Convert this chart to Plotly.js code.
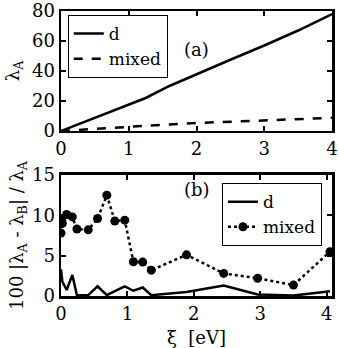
<!DOCTYPE html>
<html>
<head>
<meta charset="utf-8">
<script src="https://cdn.plot.ly/plotly-3.0.1.min.js"></script>
<style>
  body { margin: 0; background: #fff; }
  #graph { width: 338px; height: 348px; }
</style>
</head>
<body>
<div id="graph"></div>
<script>
// panel (a): lambda_A vs xi
const xiA = [0, 0.4, 0.8, 1.25, 1.6, 2, 2.5, 3, 3.5, 4];
const lamD = [0, 7, 14, 22, 30, 38, 47.5, 57, 67, 78];
const lamMixed = [0, 1.2, 2.4, 3.4, 4.4, 5.3, 6.2, 7.1, 7.9, 8.8];

// panel (b): relative difference in percent
const xiB = [0, 0.01, 0.02, 0.085, 0.17, 0.24, 0.41, 0.55, 0.69, 0.81, 0.96, 1.09, 1.23, 1.36, 1.89, 2.45, 2.96, 3.5, 4.05];
const diffD = [3.3, 2.4, 1.8, 0.75, 2.6, 0.1, 0.1, 1.2, 0.1, 0.6, 1.2, 0.65, 1.05, 0.1, 0.5, 1.3, 0.2, 0.05, 0.6];
const diffMixed = [7.8, 9.4, 9.0, 10.1, 9.8, 8.3, 8.2, 9.6, 12.5, 9.3, 9.4, 4.25, 4.2, 3.2, 5.1, 2.8, 2.2, 1.35, 5.5];

const font = { family: 'DejaVu Serif', size: 18, color: '#000' };
const legFont = Object.assign({}, font, { size: 17 });

const traces = [
  { x: xiA, y: lamD, type: 'scatter', mode: 'lines', name: 'd', line: { color: '#000', width: 2.5 }, xaxis: 'x', yaxis: 'y', legend: 'legend' },
  { x: xiA, y: lamMixed, type: 'scatter', mode: 'lines', name: 'mixed', line: { color: '#000', width: 2.5, dash: 'dash' }, xaxis: 'x', yaxis: 'y', legend: 'legend' },
  { x: xiB, y: diffD, type: 'scatter', mode: 'lines', name: 'd', line: { color: '#000', width: 2.5 }, xaxis: 'x2', yaxis: 'y2', legend: 'legend2' },
  { x: xiB, y: diffMixed, type: 'scatter', mode: 'lines+markers', name: 'mixed', line: { color: '#000', width: 2.5, dash: 'dot' }, marker: { color: '#000', size: 9 }, xaxis: 'x2', yaxis: 'y2', legend: 'legend2' }
];

const axisStyle = {
  showline: true, linewidth: 2.5, linecolor: '#000', mirror: 'ticks',
  ticks: 'inside', ticklen: 5, tickwidth: 2, tickcolor: '#000',
  showgrid: false, zeroline: false, tickfont: font, ticklabeloverflow: 'allow'
};

const layout = {
  width: 338, height: 348,
  margin: { l: 61, r: 6, t: 11, b: 52 },
  paper_bgcolor: '#fff', plot_bgcolor: '#fff',
  font: font,
  showlegend: true,
  xaxis: Object.assign({}, axisStyle, { domain: [0, 1], range: [0, 4], dtick: 1, anchor: 'y' }),
  yaxis: Object.assign({}, axisStyle, { domain: [0.579, 1], range: [0, 80], dtick: 20, anchor: 'x',
    title: { text: 'λ<sub>A</sub>', font: font, standoff: 8 } }),
  xaxis2: Object.assign({}, axisStyle, { domain: [0, 1], range: [0, 4.08], dtick: 1, anchor: 'y2',
    title: { text: 'ξ  [eV]', font: font, standoff: 10 } }),
  yaxis2: Object.assign({}, axisStyle, { domain: [0, 0.4246], range: [0, 15], dtick: 5, anchor: 'x2',
    title: { text: '100 |λ<sub>A</sub> - λ<sub>B</sub>| / λ<sub>A</sub>', font: font, standoff: 4 } }),
  legend: { x: 0.025, y: 0.986, xanchor: 'left', yanchor: 'top', bgcolor: '#fff', bordercolor: '#000', borderwidth: 1, font: legFont, tracegroupgap: 0 },
  legend2: { x: 0.963, y: 0.396, xanchor: 'right', yanchor: 'top', bgcolor: '#fff', bordercolor: '#000', borderwidth: 1, font: legFont, tracegroupgap: 0 },
  annotations: [
    { text: '(a)', x: 0.5, y: 0.91, xref: 'paper', yref: 'paper', showarrow: false, font: font },
    { text: '(b)', x: 0.5, y: 0.33, xref: 'paper', yref: 'paper', showarrow: false, font: font }
  ]
};

Plotly.newPlot('graph', traces, layout, { displayModeBar: false, staticPlot: true });
</script>
</body>
</html>
